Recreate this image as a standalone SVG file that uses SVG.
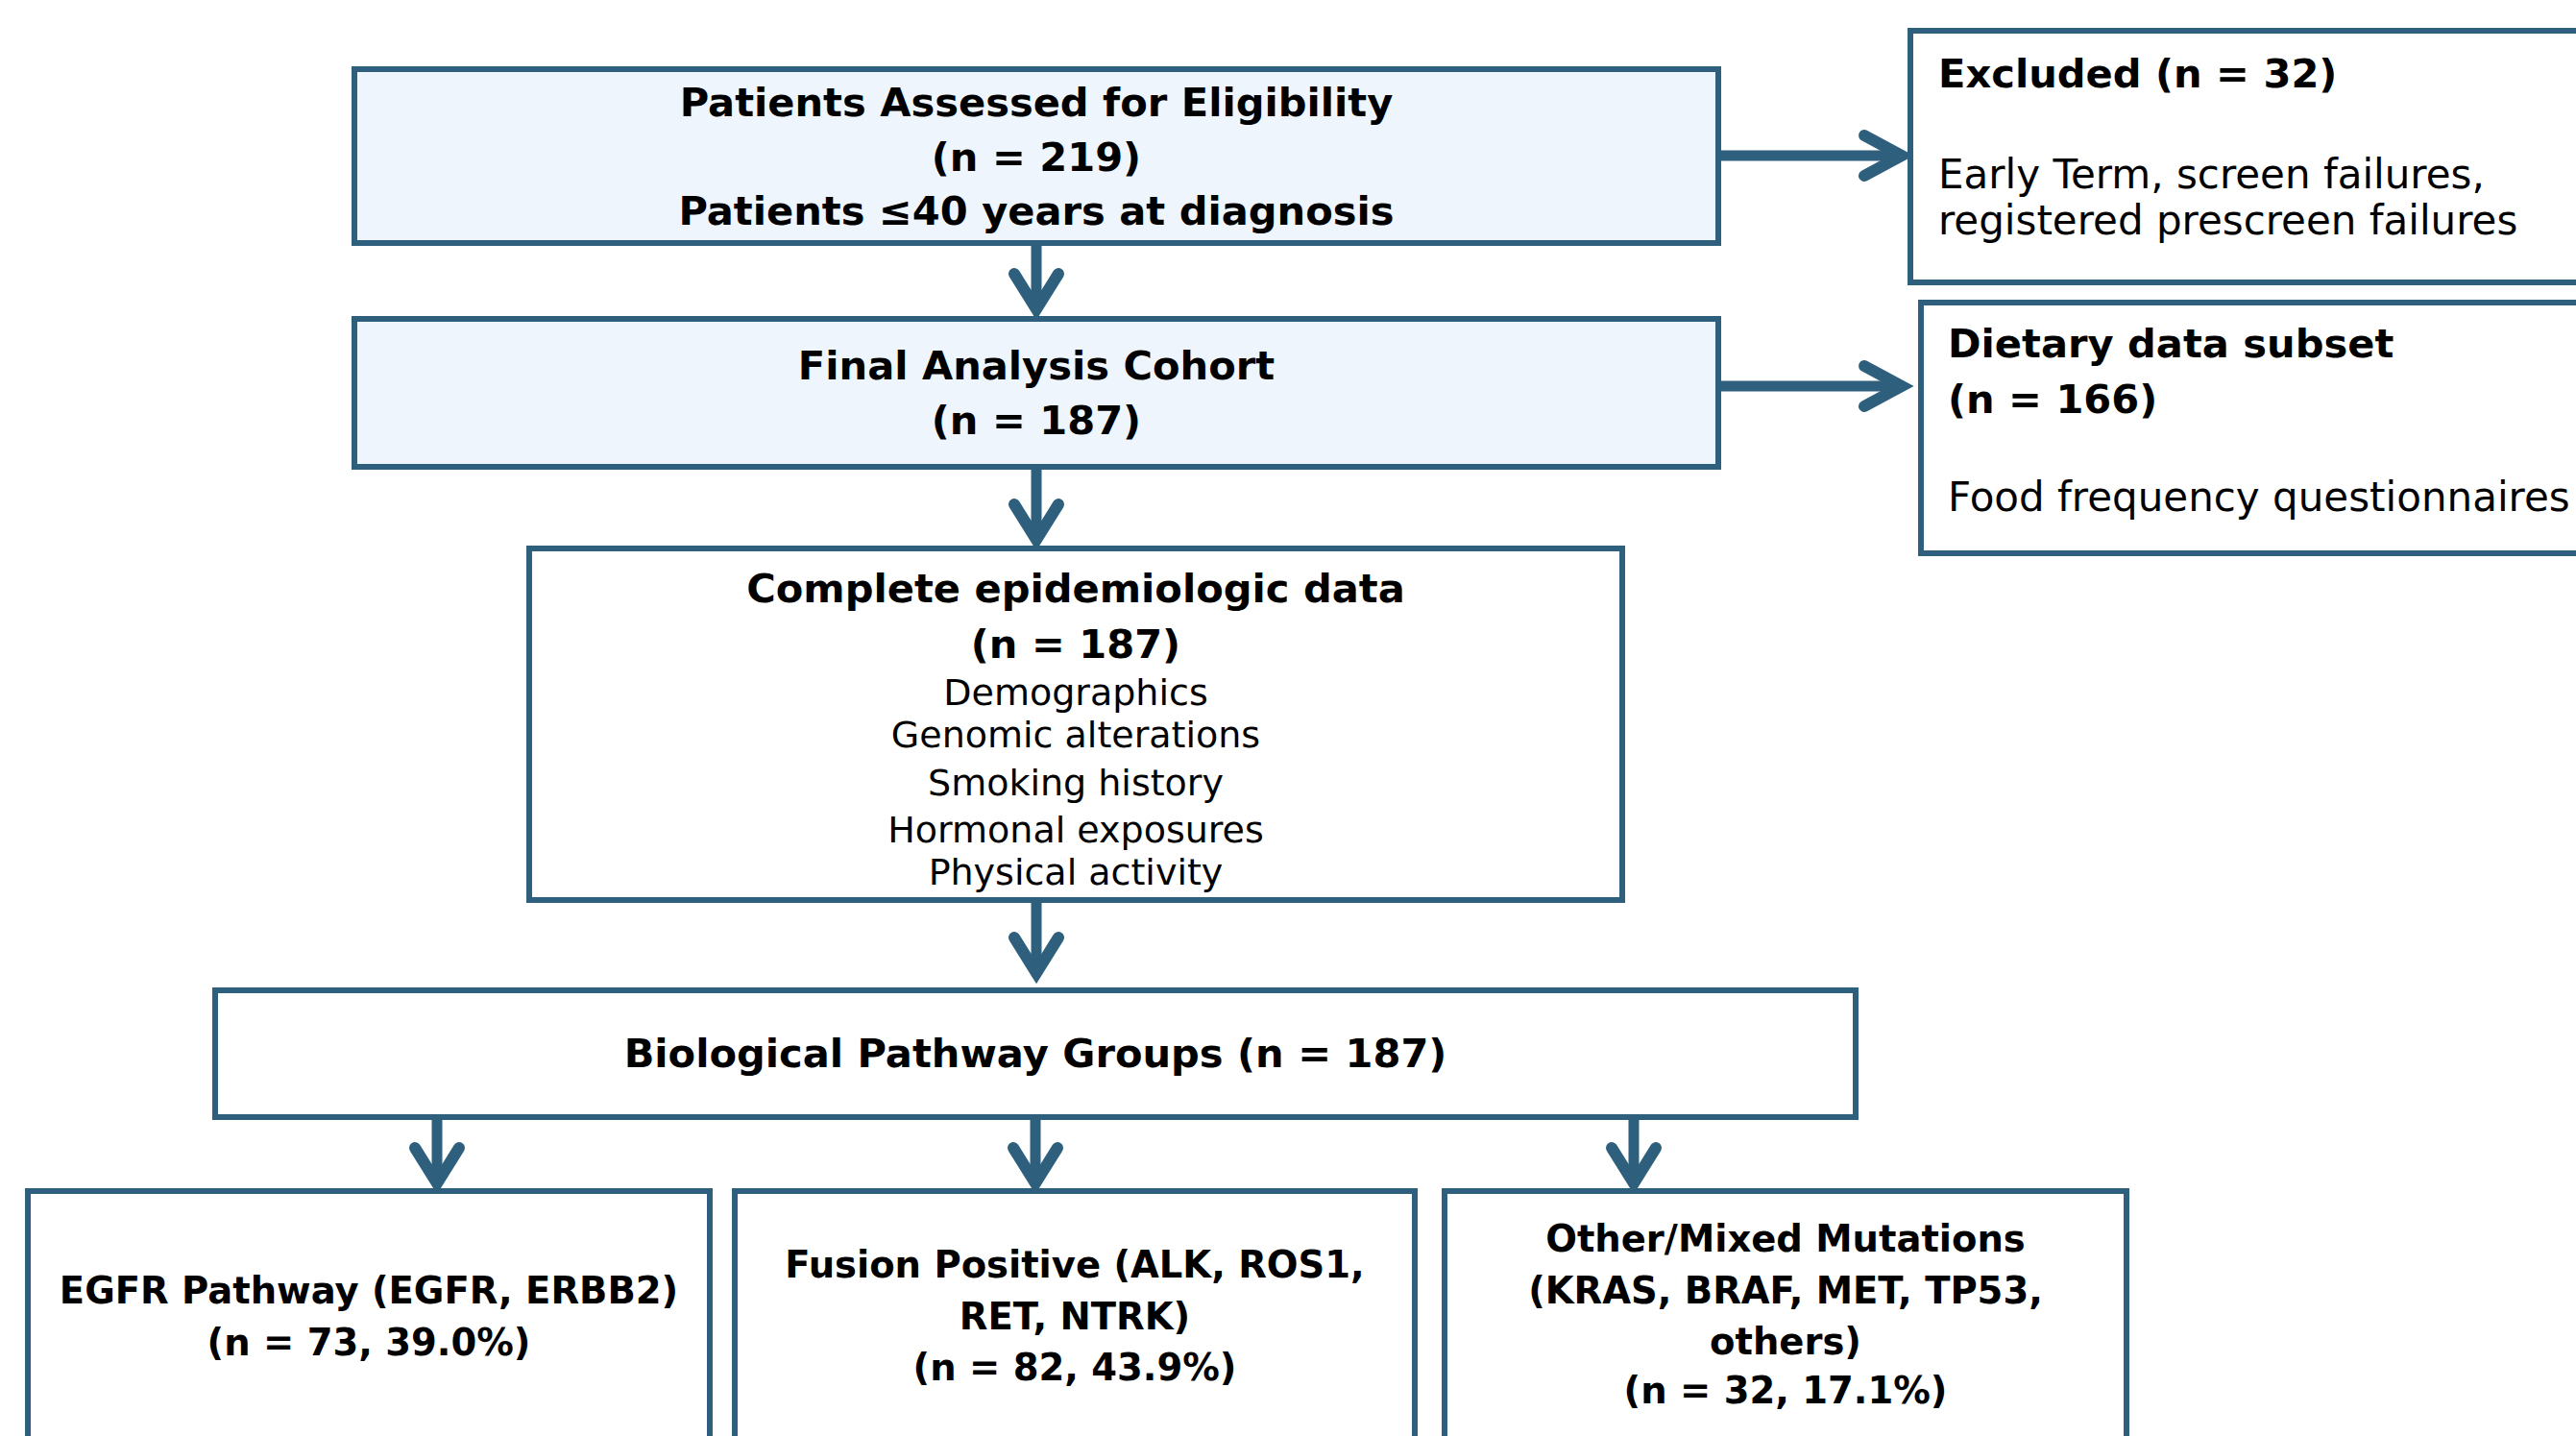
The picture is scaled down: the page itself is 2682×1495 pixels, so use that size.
<svg xmlns="http://www.w3.org/2000/svg" width="2682" height="1495" viewBox="0 0 2682 1495">
<defs>
<style>
.box{fill:#ffffff;stroke:#2e5f7d;stroke-width:6}
.hl{fill:#eef5fd}
.b{font-family:"DejaVu Sans",Verdana,sans-serif;font-weight:bold;font-size:41.6px;fill:#000}
.bs{font-family:"DejaVu Sans",Verdana,sans-serif;font-weight:bold;font-size:38.5px;fill:#000}
.r{font-family:"DejaVu Sans",Verdana,sans-serif;font-size:42px;fill:#000}
.rs{font-family:"DejaVu Sans",Verdana,sans-serif;font-size:38px;fill:#000}
.c{text-anchor:middle}
.ln{stroke:#2e5f7d;stroke-width:11;fill:none}
.ah{stroke:#2e5f7d;stroke-width:12;fill:none;stroke-linecap:round;stroke-linejoin:miter;stroke-miterlimit:10}
</style>
</defs>
<rect width="2682" height="1495" fill="#ffffff"/>

<g id="connectors">
<line class="ln" x1="1079" y1="256" x2="1079" y2="322"/>
<polyline class="ah" points="1056,285 1079,322 1102,285"/>
<line class="ln" x1="1079" y1="489" x2="1079" y2="562"/>
<polyline class="ah" points="1056,525 1079,562 1102,525"/>
<line class="ln" x1="1079" y1="940" x2="1079" y2="1013"/>
<polyline class="ah" points="1056,976 1079,1013 1102,976"/>
<line class="ln" x1="1789" y1="162" x2="1980" y2="162"/>
<polyline class="ah" points="1941,141 1980,162 1941,183"/>
<line class="ln" x1="1789" y1="402" x2="1980" y2="402"/>
<polyline class="ah" points="1941,381 1980,402 1941,423"/>
<line class="ln" x1="455" y1="1166" x2="455" y2="1232"/>
<polyline class="ah" points="432,1195 455,1232 478,1195"/>
<line class="ln" x1="1078" y1="1166" x2="1078" y2="1232"/>
<polyline class="ah" points="1055,1195 1078,1232 1101,1195"/>
<line class="ln" x1="1701" y1="1166" x2="1701" y2="1232"/>
<polyline class="ah" points="1678,1195 1701,1232 1724,1195"/>
</g>

<g id="assessed">
<rect class="box hl" x="369" y="72" width="1420" height="181"/>
<text class="b c" x="1079" y="121">Patients Assessed for Eligibility</text>
<text class="b c" x="1079" y="178">(n = 219)</text>
<text class="b c" x="1079" y="234">Patients ≤40 years at diagnosis</text>
</g>

<g id="excluded">
<rect class="box" x="1989" y="32" width="720" height="262"/>
<text class="b" x="2018" y="91">Excluded (n = 32)</text>
<text class="r" x="2018" y="196">Early Term, screen failures,</text>
<text class="r" x="2018" y="244">registered prescreen failures</text>
</g>

<g id="final">
<rect class="box hl" x="369" y="332" width="1420" height="154"/>
<text class="b c" x="1079" y="395">Final Analysis Cohort</text>
<text class="b c" x="1079" y="452">(n = 187)</text>
</g>

<g id="dietary">
<rect class="box" x="2000" y="315" width="710" height="261"/>
<text class="b" x="2028" y="372">Dietary data subset</text>
<text class="b" x="2028" y="430">(n = 166)</text>
<text class="r" x="2028" y="532">Food frequency questionnaires</text>
</g>

<g id="epidemiologic">
<rect class="box" x="551" y="571" width="1138" height="366"/>
<text class="b c" x="1120" y="627">Complete epidemiologic data</text>
<text class="b c" x="1120" y="685">(n = 187)</text>
<text class="rs c" x="1120" y="734">Demographics</text>
<text class="rs c" x="1120" y="778">Genomic alterations</text>
<text class="rs c" x="1120" y="828">Smoking history</text>
<text class="rs c" x="1120" y="877">Hormonal exposures</text>
<text class="rs c" x="1120" y="921">Physical activity</text>
</g>

<g id="pathway-groups">
<rect class="box" x="224" y="1031" width="1708" height="132"/>
<text class="b c" x="1078" y="1111">Biological Pathway Groups (n = 187)</text>
</g>

<g id="egfr">
<rect class="box" x="29" y="1240" width="710" height="290"/>
<text class="bs c" x="384" y="1357">EGFR Pathway (EGFR, ERBB2)</text>
<text class="bs c" x="384" y="1411">(n = 73, 39.0%)</text>
</g>

<g id="fusion">
<rect class="box" x="765" y="1240" width="708" height="290"/>
<text class="bs c" x="1119" y="1330">Fusion Positive (ALK, ROS1,</text>
<text class="bs c" x="1119" y="1384">RET, NTRK)</text>
<text class="bs c" x="1119" y="1437">(n = 82, 43.9%)</text>
</g>

<g id="other">
<rect class="box" x="1504" y="1240" width="710" height="290"/>
<text class="bs c" x="1859" y="1303">Other/Mixed Mutations</text>
<text class="bs c" x="1859" y="1357">(KRAS, BRAF, MET, TP53,</text>
<text class="bs c" x="1859" y="1410">others)</text>
<text class="bs c" x="1859" y="1461">(n = 32, 17.1%)</text>
</g>
</svg>
